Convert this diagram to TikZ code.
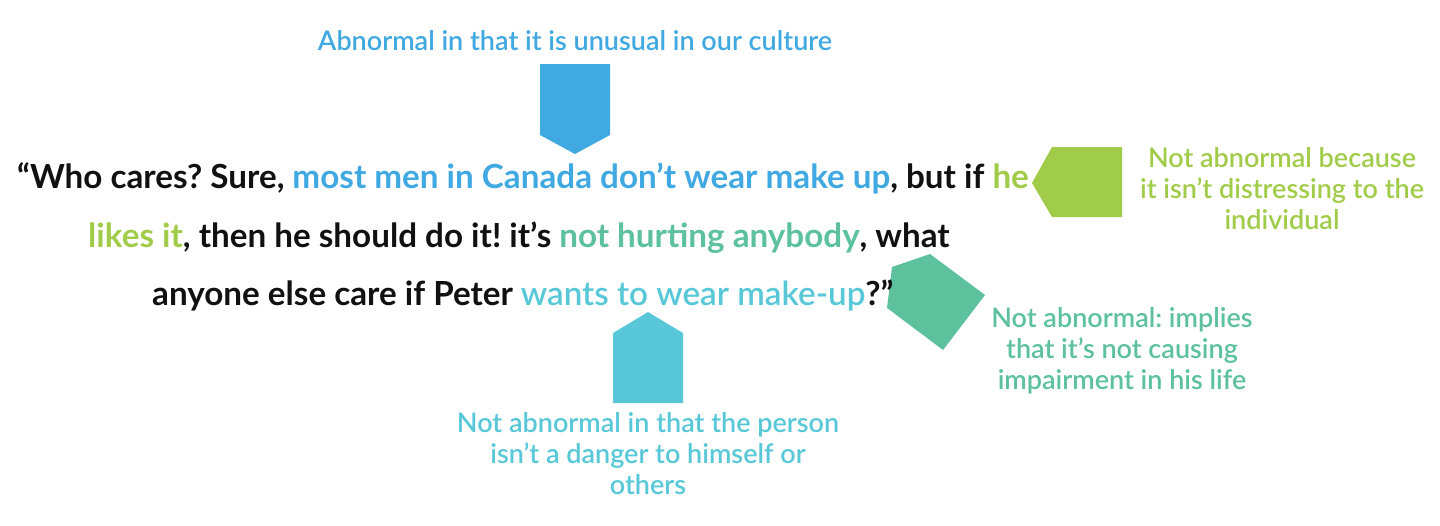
\documentclass[tikz,border=0pt]{standalone}
\usepackage{fontspec}
\setmainfont{Lato Semibold}[BoldFont={Lato Bold}]
\frenchspacing
\begin{document}
\begin{tikzpicture}[x=1pt,y=-1pt,
  main/.style={anchor=base west,inner sep=0pt,font=\fontsize{33.2}{38}\selectfont\bfseries,text=mainblack},
  lbl/.style={anchor=base,inner sep=0pt,font=\fontsize{27}{31}\selectfont}]
\definecolor{mainblack}{HTML}{111111}
\definecolor{cblue}{HTML}{41A9E1}
\definecolor{cgreen}{HTML}{A1CC4A}
\definecolor{cteal}{HTML}{5CC19C}
\definecolor{ccyan}{HTML}{58C8D9}
\useasboundingbox (0,0) rectangle (1440,525);
% shapes
\fill[cblue] (540,64) -- (610,64) -- (610,135) -- (575,154) -- (540,135) -- cycle;
\fill[cgreen] (1052,147) -- (1122,147) -- (1122,217) -- (1052,217) -- (1032,183) -- cycle;
\fill[cteal] (892,267) -- (930,254) -- (985,295) -- (943,350) -- (887,308) -- cycle;
\fill[ccyan] (648,312) -- (683,333) -- (683,403) -- (613,403) -- (613,333) -- cycle;
% main text
\node[main] (l1) at (17,188) {“Who cares? Sure, \textcolor{cblue}{most men in Canada don’t wear make up}, but if \textcolor{cgreen}{he}};
\node[main] (l2) at (88,247) {\textcolor{cgreen}{likes it}, then he should do it! it’s \textcolor{cteal}{not hurting anybody}, what};
\node[main] (l3) at (152,305) {anyone else care if Peter \textcolor{ccyan}{\mdseries wants to wear make-up}?”};
% labels
\node[lbl,text=cblue] (a1) at (575,50) {Abnormal in that it is unusual in our culture};
\node[lbl,text=cgreen] (g1) at (1282,167) {Not abnormal because};
\node[lbl,text=cgreen] (g2) at (1282,198) {it isn’t distressing to the};
\node[lbl,text=cgreen] (g3) at (1282,229) {individual};
\node[lbl,text=cteal] (t1) at (1122,327) {Not abnormal: implies};
\node[lbl,text=cteal] (t2) at (1122,358) {that it’s not causing};
\node[lbl,text=cteal] (t3) at (1122,389) {impairment in his life};
\node[lbl,text=ccyan] (c1) at (648,432) {Not abnormal in that the person};
\node[lbl,text=ccyan] (c2) at (648,463) {isn’t a danger to himself or};
\node[lbl,text=ccyan] (c3) at (648,494) {others};
\end{tikzpicture}
\end{document}
